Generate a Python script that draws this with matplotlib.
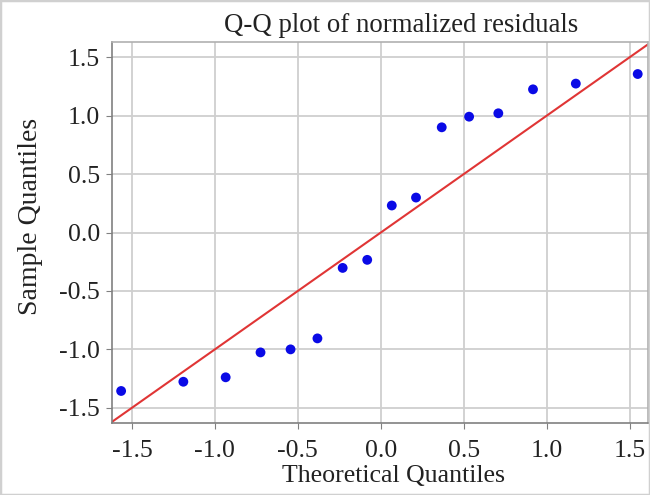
import matplotlib
matplotlib.use("Agg")
import matplotlib.pyplot as plt
from matplotlib.patches import Rectangle

# Data
theoretical = [-1.565, -1.190, -0.935, -0.725, -0.544, -0.382, -0.230, -0.082,
               0.066, 0.212, 0.367, 0.532, 0.708, 0.917, 1.175, 1.548]
sample = [-1.356, -1.277, -1.239, -1.026, -1.000, -0.906, -0.303, -0.234,
          0.231, 0.299, 0.900, 0.991, 1.020, 1.225, 1.274, 1.356]
ticks = [-1.5, -1.0, -0.5, 0.0, 0.5, 1.0, 1.5]
tick_labels = ["-1.5", "-1.0", "-0.5", "0.0", "0.5", "1.0", "1.5"]

plt.rcParams['font.family'] = ['Liberation Serif', 'DejaVu Serif']

fig = plt.figure(figsize=(6.5, 4.95), dpi=100)
ax = fig.add_axes([112/650, 1 - 423/495, (648-112)/650, (423-42)/495])

ax.set_xlim(-1.62, 1.61)
ax.set_ylim(-1.63, 1.63)
ax.set_xticks(ticks)
ax.set_xticklabels(tick_labels)
ax.set_yticks(ticks)
ax.set_yticklabels(tick_labels)

ax.grid(True, color='#cfcfcf', linewidth=1.3)
ax.set_axisbelow(True)

ax.axline((0, 0), slope=1, color='#e03535', linewidth=1.5, zorder=2)
ax.scatter(theoretical, sample, s=50, color='#0a0ae6', edgecolors='none', zorder=3)

for side in ['top', 'right']:
    ax.spines[side].set_color('#b0b0b0')
for side in ['left', 'bottom']:
    ax.spines[side].set_color('#808080')
for s in ax.spines.values():
    s.set_linewidth(1.2)

ax.tick_params(axis='both', labelsize=18.5, length=4, color='#808080',
               labelcolor='#222222')
ax.tick_params(axis='y', pad=4.5)
ax.tick_params(axis='x', pad=8)

fig.text(394/650, 1 - 482/495, "Theoretical Quantiles", fontsize=18.6,
         ha='center', va='baseline', color='#222222')
fig.text(31/650, 1 - 216/495, "Sample Quantiles", fontsize=20, rotation=90,
         ha='center', va='center', color='#222222')
fig.text(401/650, 1 - 32/495, "Q-Q plot of normalized residuals", fontsize=19.3,
         ha='center', va='baseline', color='#222222')

fig.patches.append(Rectangle((0, 0), 1, 1, transform=fig.transFigure,
                             fill=False, edgecolor='#d0d0d0', linewidth=2.5))

fig.savefig("out.png", dpi=100)
